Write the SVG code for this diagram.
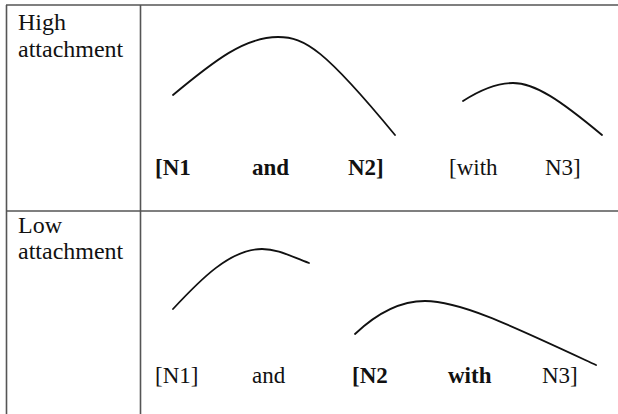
<svg xmlns="http://www.w3.org/2000/svg" width="618" height="414" viewBox="0 0 618 414">
<style>
text{font-family:'Liberation Serif','Times New Roman','DejaVu Serif',serif;font-size:23px;fill:#111}
.lbl{font-size:24px}
.b{font-weight:bold}
.grid{stroke:#555;stroke-width:1.6;fill:none}
.arc{stroke:#111;stroke-width:1.8;fill:none;stroke-linecap:round}
</style>
<rect width="618" height="414" fill="#fff"/>
<g id="table">
<line class="grid" x1="6" y1="5" x2="618" y2="5"/>
<line class="grid" x1="6.5" y1="5" x2="6.5" y2="414"/>
<line class="grid" x1="140.5" y1="5" x2="140.5" y2="414"/>
<line class="grid" x1="6" y1="211" x2="618" y2="211"/>
</g>
<g id="label-high">
<text class="lbl" x="18" y="30">High</text>
<text class="lbl" x="18" y="57">attachment</text>
</g>
<g id="label-low">
<text class="lbl" x="18" y="233">Low</text>
<text class="lbl" x="18" y="259">attachment</text>
</g>
<g id="row1-words">
<text class="b" x="155" y="175">[N1</text>
<text class="b" x="252" y="175">and</text>
<text class="b" x="348" y="175">N2]</text>
<text x="449" y="175">[with</text>
<text x="545" y="175">N3]</text>
</g>
<g id="row2-words">
<text x="155" y="383">[N1]</text>
<text x="252" y="383">and</text>
<text class="b" x="352" y="383">[N2</text>
<text class="b" x="448" y="383">with</text>
<text x="542" y="383">N3]</text>
</g>
<g id="connectors">
<path class="arc" d="M173,95 C215,60 245,37 278,37 C305,37 325,50 395,135"/>
<path class="arc" d="M463,101 C480,90 497,83 513,83 C535,83 560,100 602,135"/>
<path class="arc" d="M173,309 C200,280 230,249 262,249 C278,249 290,256 309,263"/>
<path class="arc" d="M355,334 C375,315 398,301 425,301 C460,301 510,325 596,365"/>
</g>
</svg>
